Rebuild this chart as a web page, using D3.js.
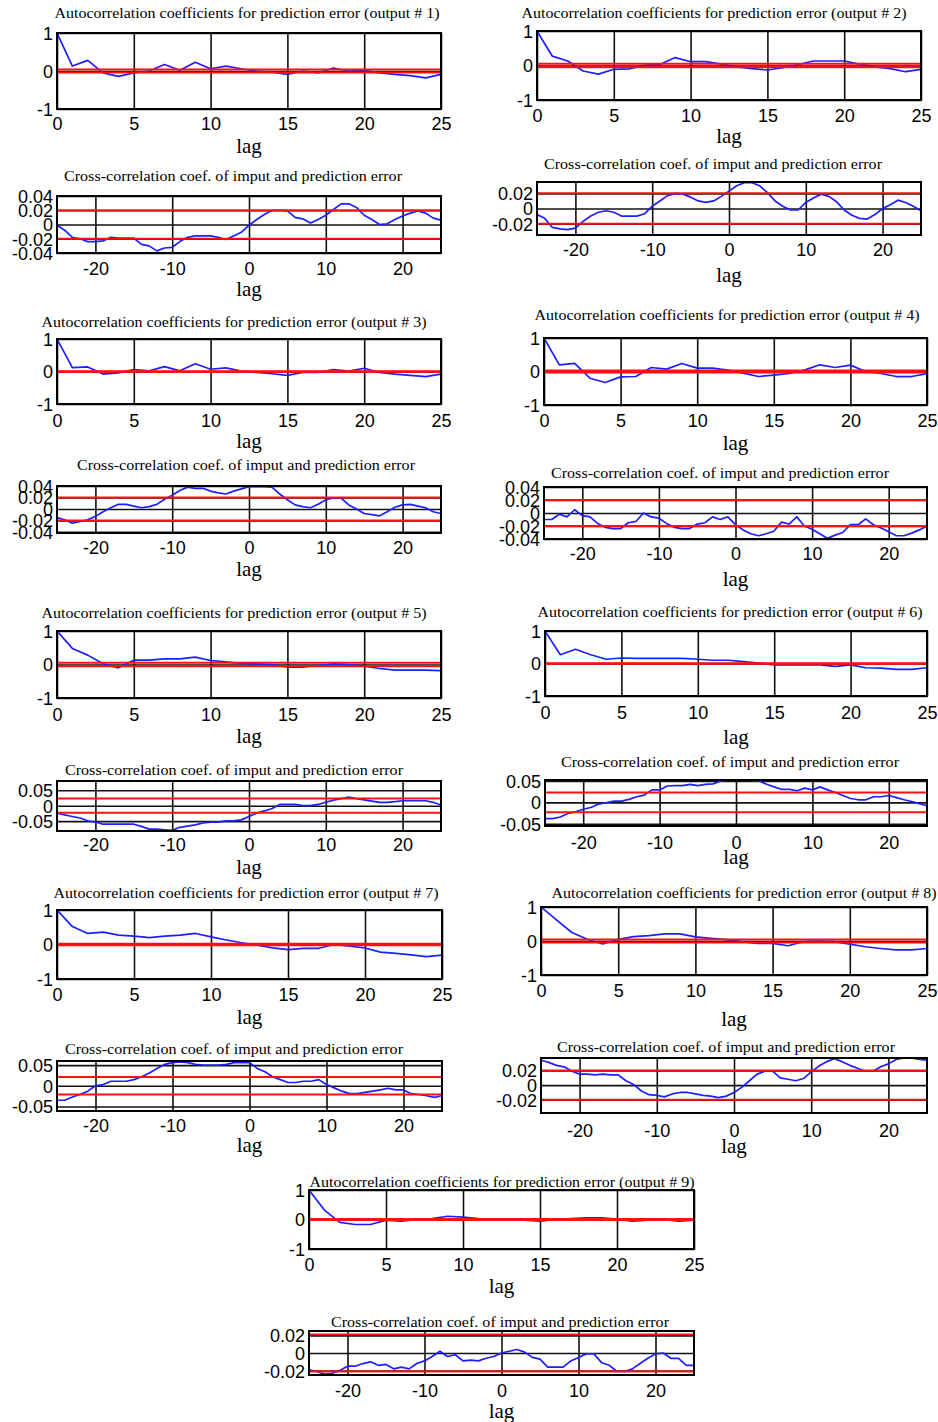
<!DOCTYPE html>
<html>
<head>
<meta charset="utf-8">
<script src="https://cdn.jsdelivr.net/npm/d3@7"></script>
<style>
  html, body { margin: 0; padding: 0; background: #fff; }
</style>
</head>
<body>
<div id="chart"></div>
<script>
// --- Data ---
const autoLags = [0,1,2,3,4,5,6,7,8,9,10,11,12,13,14,15,16,17,18,19,20,21,22,23,24,25];
const crossLags = [-25,-24,-23,-22,-21,-20,-19,-18,-17,-16,-15,-14,-13,-12,-11,-10,-9,-8,-7,-6,-5,-4,-3,-2,-1,
  0,1,2,3,4,5,6,7,8,9,10,11,12,13,14,15,16,17,18,19,20,21,22,23,24,25];

const autoXTicks = [0, 5, 10, 15, 20, 25];
const autoYTicks = [-1, 0, 1];
const autoYLimits = [-1, 1];
const crossXTicks = [-20, -10, 0, 10, 20];

const auto1 = [1,0.13,0.28,-0.05,-0.14,-0.05,0,0.17,0.02,0.23,0.06,0.13,0.06,0,-0.03,-0.09,0,-0.05,0.08,0,0.02,-0.05,-0.09,-0.12,-0.18,-0.09];
const auto2 = [1,0.27,0.13,-0.16,-0.25,-0.11,-0.1,0.01,0.03,0.23,0.11,0.11,0.04,-0.04,-0.09,-0.13,-0.06,0.03,0.13,0.13,0.13,0.04,-0.04,-0.09,-0.18,-0.11];
const auto3 = [1,0.12,0.14,-0.08,-0.04,0.06,0.02,0.15,0.02,0.24,0.07,0.11,0.01,-0.03,-0.07,-0.12,-0.03,-0.03,0.06,0.01,0.1,-0.03,-0.08,-0.12,-0.16,-0.08];
const auto4 = [1,0.2,0.24,-0.2,-0.33,-0.16,-0.15,0.12,0.07,0.24,0.1,0.1,0.04,-0.05,-0.15,-0.11,-0.06,0.04,0.2,0.12,0.19,0,-0.06,-0.15,-0.15,-0.06];
const auto5 = [1,0.48,0.28,0.02,-0.1,0.13,0.13,0.17,0.17,0.22,0.12,0.08,0.03,0.02,0,-0.08,-0.08,-0.03,0.02,0,-0.05,-0.12,-0.17,-0.17,-0.17,-0.18];
const auto6 = [1,0.27,0.44,0.27,0.13,0.17,0.16,0.16,0.16,0.16,0.13,0.1,0.1,0.06,0.01,-0.04,-0.04,-0.04,-0.04,-0.09,-0.04,-0.13,-0.14,-0.18,-0.18,-0.13];
const auto7 = [1,0.52,0.32,0.36,0.27,0.24,0.2,0.24,0.27,0.32,0.22,0.13,0.05,-0.02,-0.1,-0.15,-0.11,-0.11,0,-0.05,-0.1,-0.22,-0.26,-0.3,-0.35,-0.31];
const auto8 = [1,0.62,0.25,0.05,-0.09,0.05,0.13,0.16,0.21,0.21,0.12,0.08,0.04,-0.02,-0.07,-0.07,-0.14,-0.02,0,-0.02,-0.09,-0.17,-0.22,-0.26,-0.26,-0.22];
const auto9 = [1,0.32,-0.1,-0.17,-0.17,-0.02,-0.06,0,0.03,0.11,0.08,0.03,0,0,-0.02,-0.06,0,0.03,0.06,0.06,0.01,-0.06,-0.02,0,-0.06,-0.02];

const cross1 = [-0.001,-0.008,-0.018,-0.02,-0.024,-0.024,-0.023,-0.018,-0.019,-0.019,-0.019,-0.028,-0.03,-0.037,-0.033,-0.032,-0.024,-0.018,-0.016,-0.016,-0.016,-0.018,-0.021,-0.016,-0.011,
  -0.001,0.007,0.014,0.02,0.02,0.019,0.01,0.008,0.002,0.007,0.013,0.021,0.029,0.029,0.024,0.013,0.007,0,0.001,0.007,0.012,0.016,0.019,0.016,0.009,0.006];
const cross2 = [-0.008,-0.013,-0.025,-0.027,-0.028,-0.026,-0.017,-0.01,-0.005,-0.003,-0.005,-0.01,-0.01,-0.01,-0.007,0.003,0.01,0.017,0.02,0.019,0.015,0.01,0.008,0.01,0.016,
  0.023,0.03,0.034,0.034,0.03,0.021,0.01,0.003,-0.002,-0.002,0.008,0.014,0.019,0.016,0.009,-0.002,-0.009,-0.013,-0.014,-0.008,0,0.005,0.011,0.008,0.003,-0.003];
const cross3 = [-0.015,-0.019,-0.025,-0.022,-0.019,-0.013,-0.005,0.002,0.008,0.008,0.005,0.002,0.004,0.008,0.017,0.024,0.032,0.038,0.036,0.036,0.031,0.028,0.026,0.031,0.035,
  0.039,0.039,0.039,0.038,0.026,0.016,0.007,0.004,0.002,0.008,0.016,0.019,0.019,0.007,0,-0.008,-0.01,-0.012,-0.005,0.003,0.007,0.008,0.005,0.002,-0.005,-0.008];
const cross4 = [-0.01,-0.01,-0.002,-0.006,0.005,-0.004,-0.006,-0.016,-0.022,-0.024,-0.024,-0.015,-0.013,0,-0.006,-0.008,-0.016,-0.022,-0.024,-0.024,-0.017,-0.015,-0.006,-0.01,-0.006,
  -0.018,-0.026,-0.032,-0.035,-0.032,-0.028,-0.014,-0.017,-0.006,-0.02,-0.025,-0.032,-0.039,-0.034,-0.03,-0.018,-0.018,-0.009,-0.018,-0.023,-0.029,-0.035,-0.035,-0.031,-0.026,-0.02];
const cross5 = [-0.024,-0.03,-0.035,-0.04,-0.049,-0.053,-0.06,-0.06,-0.06,-0.06,-0.06,-0.067,-0.076,-0.076,-0.078,-0.08,-0.07,-0.066,-0.062,-0.056,-0.053,-0.053,-0.049,-0.049,-0.046,
  -0.035,-0.024,-0.017,-0.009,0.004,0.004,0.004,0,0,0.004,0.011,0.018,0.023,0.028,0.023,0.019,0.015,0.011,0.011,0.013,0.016,0.016,0.016,0.016,0.011,0.002];
const cross6 = [-0.038,-0.038,-0.034,-0.026,-0.022,-0.016,-0.012,-0.004,-0.001,0.003,0.003,0.007,0.013,0.017,0.029,0.029,0.038,0.039,0.039,0.042,0.039,0.042,0.043,0.05,0.052,
  0.052,0.052,0.051,0.05,0.042,0.036,0.03,0.03,0.027,0.033,0.029,0.036,0.029,0.023,0.016,0.009,0.006,0.006,0.013,0.013,0.016,0.011,0.006,0.002,-0.003,-0.008];
const cross7 = [-0.035,-0.035,-0.027,-0.021,-0.013,0,0.003,0.011,0.011,0.011,0.015,0.022,0.031,0.042,0.052,0.056,0.058,0.056,0.052,0.05,0.05,0.05,0.052,0.056,0.056,
  0.056,0.042,0.034,0.022,0.015,0.008,0.008,0.011,0.011,0.015,0.003,-0.005,-0.013,-0.019,-0.019,-0.016,-0.013,-0.01,-0.006,-0.01,-0.01,-0.019,-0.021,-0.024,-0.028,-0.024];
const cross8 = [0.034,0.031,0.027,0.025,0.019,0.015,0.015,0.014,0.015,0.014,0.014,0.006,0.001,-0.008,-0.013,-0.014,-0.016,-0.012,-0.01,-0.01,-0.012,-0.014,-0.015,-0.017,-0.015,
  -0.01,-0.003,0.006,0.015,0.019,0.019,0.01,0.008,0.006,0.009,0.018,0.026,0.032,0.036,0.032,0.027,0.023,0.019,0.019,0.025,0.029,0.035,0.037,0.037,0.035,0.034];
const cross9 = [-0.019,-0.021,-0.024,-0.023,-0.02,-0.015,-0.015,-0.012,-0.01,-0.014,-0.013,-0.018,-0.016,-0.018,-0.012,-0.009,-0.004,0.002,-0.004,-0.002,-0.009,-0.008,-0.009,-0.006,-0.004,
  0,0.002,0.004,0.001,-0.005,-0.007,-0.016,-0.016,-0.016,-0.009,-0.005,-0.001,-0.001,-0.011,-0.014,-0.021,-0.021,-0.018,-0.012,-0.006,-0.001,0,-0.006,-0.006,-0.014,-0.014];

// y limits and tick labels of the cross-correlation panels
const crossYLimits = [[-0.04,0.04],[-0.035,0.035],[-0.042,0.04],[-0.04,0.04],[-0.082,0.08],[-0.055,0.052],[-0.061,0.06],[-0.038,0.037],[-0.025,0.025]];
const crossYTicks = [
  [-0.04,-0.02,0,0.02,0.04],
  [-0.02,0,0.02],
  [-0.04,-0.02,0,0.02,0.04],
  [-0.04,-0.02,0,0.02,0.04],
  [-0.05,0,0.05],
  [-0.05,0,0.05],
  [-0.05,0,0.05],
  [-0.02,0,0.02],
  [-0.02,0,0.02]
];
// confidence bounds (red lines)
const autoBounds = [0.04, 0.05, 0.006, 0.03, 0.05, 0.004, 0.025, 0.045, 0.02];
const crossBounds = [0.02, 0.02, 0.02, 0.02, 0.023, 0.023, 0.021, 0.02, 0.021];

const autoSeries = [auto1, auto2, auto3, auto4, auto5, auto6, auto7, auto8, auto9];
const crossSeries = [cross1, cross2, cross3, cross4, cross5, cross6, cross7, cross8, cross9];

// --- Layout (pixel boxes of each panel) ---
const layout = [
  {auto:{x0:57,x1:441,y0:33,y1:109,tx:247,ty:13,tick:124,lag:147},     cross:{x0:57,x1:441,y0:196,y1:253,tx:233,ty:176,tick:269,lag:290}},
  {auto:{x0:537,x1:921,y0:31,y1:100,tx:714,ty:13,tick:116,lag:137},    cross:{x0:537,x1:921,y0:182,y1:235,tx:713,ty:164,tick:250,lag:276}},
  {auto:{x0:57,x1:441,y0:339,y1:404,tx:234,ty:322,tick:421,lag:442},   cross:{x0:57,x1:441,y0:486,y1:533,tx:246,ty:465,tick:548,lag:570}},
  {auto:{x0:544,x1:927,y0:338,y1:405,tx:727,ty:315,tick:421,lag:444},  cross:{x0:544,x1:927,y0:487,y1:539,tx:720,ty:473,tick:554,lag:580}},
  {auto:{x0:57,x1:441,y0:631,y1:698,tx:234,ty:613,tick:715,lag:737},   cross:{x0:57,x1:441,y0:781,y1:831,tx:234,ty:770,tick:845,lag:868}},
  {auto:{x0:545,x1:927,y0:631,y1:696,tx:730,ty:612,tick:713,lag:738},  cross:{x0:545,x1:927,y0:780,y1:826,tx:730,ty:762,tick:843,lag:858}},
  {auto:{x0:57,x1:442,y0:910,y1:979,tx:246,ty:893,tick:995,lag:1018},  cross:{x0:57,x1:442,y0:1061,y1:1111,tx:234,ty:1049,tick:1126,lag:1146}},
  {auto:{x0:541,x1:927,y0:907,y1:975,tx:744,ty:893,tick:991,lag:1020}, cross:{x0:541,x1:927,y0:1058,y1:1113,tx:726,ty:1047,tick:1131,lag:1147}},
  {auto:{x0:309,x1:694,y0:1190,y1:1249,tx:502,ty:1182,tick:1265,lag:1287}, cross:{x0:309,x1:694,y0:1331,y1:1375,tx:500,ty:1322,tick:1391,lag:1412}}
];

const W = 938, H = 1422;
const SANS = '"Liberation Sans", Arial, Helvetica, sans-serif';
const SERIF = '"Liberation Serif", "Times New Roman", Times, serif';

const svg = d3.select('#chart').append('svg')
  .attr('width', W)
  .attr('height', H)
  .style('background', '#fff');

let clipId = 0;

function drawPanel(box, lags, vals, xDom, yDom, xTicks, yTicks, bound, title, titleW) {
  const x = d3.scaleLinear().domain(xDom).range([box.x0, box.x1]);
  const y = d3.scaleLinear().domain(yDom).range([box.y1, box.y0]);
  const g = svg.append('g');

  // vertical grid + x tick labels
  const xa = g.append('g')
    .attr('transform', `translate(0,${box.y1})`)
    .call(d3.axisBottom(x).tickValues(xTicks)
      .tickSizeInner(-(box.y1 - box.y0)).tickSizeOuter(0)
      .tickFormat(d => String(d)));
  xa.select('.domain').remove();
  xa.selectAll('line').attr('stroke', '#111').attr('stroke-width', 1.6);
  xa.selectAll('text')
    .attr('y', box.tick - box.y1)
    .attr('dy', '0.36em')
    .attr('font-family', SANS)
    .attr('font-size', 18)
    .attr('fill', '#000');

  // horizontal grid + y tick labels
  const ya = g.append('g')
    .attr('transform', `translate(${box.x0},0)`)
    .call(d3.axisLeft(y).tickValues(yTicks)
      .tickSizeInner(-(box.x1 - box.x0)).tickSizeOuter(0).tickPadding(4)
      .tickFormat(d => String(d)));
  ya.select('.domain').remove();
  ya.selectAll('line').attr('stroke', '#111').attr('stroke-width', 1.6);
  ya.selectAll('text')
    .attr('dy', '0.36em')
    .attr('font-family', SANS)
    .attr('font-size', 18)
    .attr('fill', '#000');

  const id = 'clip' + (clipId++);
  svg.append('defs').append('clipPath').attr('id', id)
    .append('rect')
    .attr('x', box.x0).attr('y', box.y0)
    .attr('width', box.x1 - box.x0).attr('height', box.y1 - box.y0);

  // series
  const line = d3.line().x(d => x(d[0])).y(d => y(d[1]));
  g.append('path')
    .datum(d3.zip(lags, vals))
    .attr('clip-path', `url(#${id})`)
    .attr('fill', 'none')
    .attr('stroke', '#1e1eff')
    .attr('stroke-width', 1.7)
    .attr('stroke-linejoin', 'round')
    .attr('d', line);

  // confidence bounds
  g.selectAll('.bound')
    .data([bound, -bound])
    .join('line')
    .attr('class', 'bound')
    .attr('x1', box.x0).attr('x2', box.x1)
    .attr('y1', d => y(d)).attr('y2', d => y(d))
    .attr('stroke', '#ff1010')
    .attr('stroke-width', 2);

  // frame
  g.append('rect')
    .attr('x', box.x0).attr('y', box.y0)
    .attr('width', box.x1 - box.x0).attr('height', box.y1 - box.y0)
    .attr('fill', 'none')
    .attr('stroke', '#000')
    .attr('stroke-width', 2);

  // title
  g.append('text')
    .attr('x', box.tx).attr('y', box.ty)
    .attr('dy', '0.35em')
    .attr('text-anchor', 'middle')
    .attr('font-family', SERIF)
    .attr('font-size', 15)
    .attr('textLength', titleW)
    .attr('lengthAdjust', 'spacingAndGlyphs')
    .attr('fill', '#000')
    .text(title);

  // x label
  g.append('text')
    .attr('x', (box.x0 + box.x1) / 2).attr('y', box.lag)
    .attr('dy', '0.3em')
    .attr('text-anchor', 'middle')
    .attr('font-family', SERIF)
    .attr('font-size', 21)
    .attr('fill', '#000')
    .text('lag');
}

layout.forEach((p, i) => {
  drawPanel(p.auto, autoLags, autoSeries[i], [0, 25], autoYLimits, autoXTicks, autoYTicks,
    autoBounds[i], `Autocorrelation coefficients for prediction error (output # ${i + 1})`, 385);
  drawPanel(p.cross, crossLags, crossSeries[i], [-25, 25], crossYLimits[i], crossXTicks, crossYTicks[i],
    crossBounds[i], 'Cross-correlation coef. of imput and prediction error', 338);
});
</script>
</body>
</html>
